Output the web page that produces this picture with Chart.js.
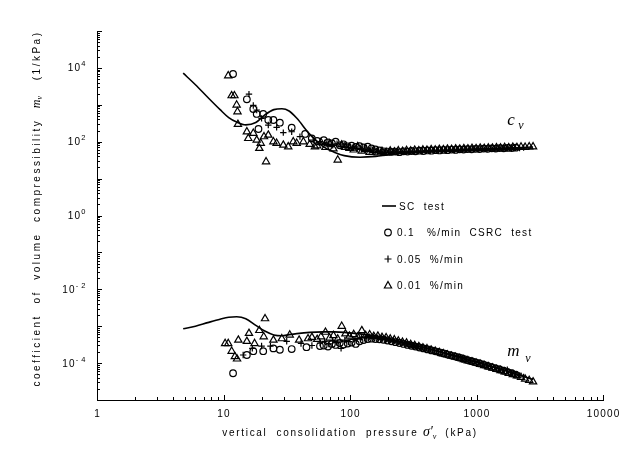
<!DOCTYPE html>
<html>
<head>
<meta charset="utf-8">
<script src="https://cdn.jsdelivr.net/npm/chart.js@4.4.1/dist/chart.umd.min.js"></script>
<style>
  html, body { margin: 0; padding: 0; background: #fff; }
</style>
</head>
<body>
<canvas id="chart" width="643" height="462"></canvas>
<script>
// ---- SC test (solid line) ----
const scP  = [4.8, 6, 7.5, 9.4, 11, 12.7, 15, 18, 21, 25, 29, 33, 38, 48, 61, 75, 90, 120, 160, 200, 300, 500, 800, 1200, 2000, 2800];
const scCv = [7200, 3500, 1600, 740, 450, 340, 285, 330, 520, 740, 780, 680, 430, 160, 75, 52, 42, 38, 40, 44, 50, 55, 60, 64, 68, 72];
const scMv = [8.5e-4, 1.0e-3, 1.25e-3, 1.55e-3, 1.75e-3, 1.8e-3, 1.6e-3, 1.05e-3, 7.5e-4, 5.8e-4, 5.5e-4, 5.9e-4, 6.3e-4,
              6.8e-4, 7.0e-4, 7.0e-4, 6.8e-4, 6.2e-4, 5.4e-4, 4.6e-4, 3.4e-4, 2.1e-4, 1.3e-4, 8.8e-5, 5.2e-5, 3.6e-5];

// ---- 0.1 %/min CSRC test (circles) ----
const circEarlyCvP = [11.9, 15.3, 17.2, 18.3, 18.9, 20.6, 22.6, 24.8, 27.9, 34.6, 44.2, 49.9, 55];
const circEarlyCv  = [6840, 1410, 770, 565, 221, 565, 387, 387, 327, 240, 162, 123, 105];
const circEarlyMvP = [11.9, 15.3, 17.2, 20.6, 24.8, 27.9, 34.6, 45.3, 57.9];
const circEarlyMv  = [5.3e-5, 1.66e-4, 2.1e-4, 2.1e-4, 2.5e-4, 2.3e-4, 2.4e-4, 2.7e-4, 2.9e-4];
const circTailP  = [62, 67, 72, 77, 83, 89, 96, 103, 111, 119, 128, 138, 148, 159, 171, 184, 198, 213, 229, 246, 265, 285, 306, 329, 354,
                    381, 410, 441, 474, 510, 549, 590, 635, 683, 735, 790, 850, 915, 984, 1058, 1138, 1225, 1318, 1418, 1525, 1640, 1765, 1900, 2040];
const circTailCv = [110, 95, 90, 100, 80, 85, 75, 78, 72, 76, 70, 73, 66, 62, 58, 55, 54, 53, 54, 52, 55, 54, 56, 55, 57,
                    56, 58, 57, 59, 58, 60, 59, 61, 60, 62, 61, 63, 62, 64, 63, 65, 64, 66, 65, 67, 66, 68, 67, 69];
const circTailMv = [3.0e-4, 2.8e-4, 3.3e-4, 3.1e-4, 3.5e-4, 3.2e-4, 3.4e-4, 3.6e-4, 3.3e-4, 3.9e-4, 4.2e-4, 4.5e-4, 4.6e-4, 4.5e-4, 4.4e-4,
                    4.3e-4, 4.1e-4, 3.9e-4, 3.7e-4, 3.5e-4, 3.3e-4, 3.1e-4, 2.95e-4, 2.8e-4, 2.65e-4, 2.5e-4, 2.35e-4, 2.2e-4, 2.08e-4, 1.95e-4,
                    1.83e-4, 1.7e-4, 1.6e-4, 1.5e-4, 1.4e-4, 1.3e-4, 1.21e-4, 1.13e-4, 1.05e-4, 9.8e-5, 9.1e-5, 8.4e-5, 7.8e-5, 7.2e-5, 6.7e-5,
                    6.2e-5, 5.7e-5, 5.3e-5, 4.9e-5];

// ---- 0.05 %/min (plus) ----
const plusEarlyCvP = [15.9, 17.2, 18.3, 20.0, 22.6, 26.3, 29.7, 34.6, 40.2, 51.2];
const plusEarlyCv  = [1950, 960, 724, 430, 283, 245, 176, 186, 137, 111];
const plusEarlyMvP = [14.3, 16.9, 20, 23.5, 31.6, 41, 50];
const plusEarlyMv  = [1.66e-4, 2.5e-4, 2.9e-4, 2.9e-4, 3.9e-4, 3.4e-4, 3.0e-4];
const plusTailP  = [58, 63, 68, 73, 79, 85, 91, 98, 106, 114, 123, 132, 142, 153, 165, 177, 191, 206, 221, 238, 257, 276, 297, 320, 345,
                    371, 400, 430, 463, 499, 537, 578, 623, 670, 722, 777, 837, 901, 970, 1045, 1125, 1211, 1304, 1404, 1512, 1628, 1753, 1888,
                    2033, 2189, 2357];
const plusTailCv = [100, 92, 85, 80, 88, 75, 82, 70, 68, 65, 62, 60, 58, 56, 54, 52, 51, 52, 53, 52, 54, 53, 55, 54, 56,
                    55, 57, 56, 58, 57, 59, 58, 60, 59, 61, 60, 62, 61, 63, 62, 64, 63, 65, 64, 66, 65, 67, 66, 68, 67, 69];
const plusTailMv = [3.5e-4, 3.9e-4, 3.3e-4, 4.0e-4, 3.6e-4, 2.5e-4, 4.2e-4, 3.8e-4, 4.4e-4, 4.7e-4, 5.0e-4, 4.8e-4, 5.2e-4, 5.0e-4, 4.9e-4,
                    4.7e-4, 4.5e-4, 4.3e-4, 4.1e-4, 3.85e-4, 3.6e-4, 3.4e-4, 3.2e-4, 3.0e-4, 2.85e-4, 2.7e-4, 2.55e-4, 2.4e-4, 2.25e-4, 2.1e-4,
                    1.97e-4, 1.85e-4, 1.72e-4, 1.6e-4, 1.5e-4, 1.4e-4, 1.3e-4, 1.2e-4, 1.12e-4, 1.04e-4, 9.6e-5, 8.9e-5, 8.2e-5, 7.6e-5, 7.0e-5,
                    6.4e-5, 6.6e-5, 5.4e-5, 5.0e-5, 4.6e-5, 4.2e-5];

// ---- 0.01 %/min (triangles) ----
const triEarlyCvP = [10.9, 11.6, 12.2, 12.7, 12.9, 13.0, 15.3, 15.7, 17.2, 18.3, 19.2, 19.7, 20.9, 21.7, 22.6, 24.8, 26.3, 29.7, 32.5, 35.6, 37.9, 42.8, 48, 52.8];
const triEarlyCv  = [6150, 1770, 1770, 990, 650, 295, 186, 123, 170, 111, 66, 91, 137, 28.7, 151, 100, 91, 81, 73, 100, 91, 100, 85, 73];
const triEarlyMvP = [10.3, 10.9, 11.6, 12.3, 12.8, 13.1, 15.3, 15.9, 17.6, 19.2, 20.8, 21.3, 24.8, 28.9, 33.4, 39.6, 46.6, 50];
const triEarlyMv  = [3.4e-4, 3.4e-4, 2.1e-4, 1.5e-4, 1.3e-4, 4.2e-4, 3.9e-4, 6.4e-4, 3.4e-4, 7.7e-4, 5.2e-4, 1.6e-3, 4.2e-4, 4.6e-4, 5.8e-4, 4.2e-4, 4.6e-4, 5.0e-4];
const triTailP  = [55, 59, 64, 69, 74, 80, 86, 92, 99, 107, 115, 124, 133, 143, 154, 166, 179, 193, 208, 224, 241, 260, 280, 302, 325,
                   350, 377, 406, 438, 472, 508, 547, 589, 635, 684, 737, 794, 855, 921, 992, 1069, 1151, 1240, 1336, 1439, 1550, 1670, 1799,
                   1938, 2088, 2249, 2423, 2610, 2800];
const triTailCv = [78, 95, 70, 88, 64, 32, 82, 70, 66, 60, 74, 56, 62, 52, 58, 50, 55, 52, 56, 53, 57, 55, 58, 56, 59,
                   57, 60, 59, 61, 60, 62, 61, 63, 62, 64, 63, 65, 64, 66, 65, 67, 66, 68, 67, 69, 68, 70, 69, 71, 70, 72, 71, 73, 73];
const triTailMv = [4.4e-4, 5.2e-4, 6.9e-4, 4.8e-4, 5.6e-4, 4.5e-4, 1.0e-3, 6.2e-4, 5.4e-4, 6.0e-4, 5.1e-4, 7.6e-4, 5.6e-4, 5.9e-4, 5.3e-4,
                   5.4e-4, 5.0e-4, 4.9e-4, 4.5e-4, 4.3e-4, 4.0e-4, 3.7e-4, 3.5e-4, 3.2e-4, 3.0e-4, 2.8e-4, 2.6e-4, 2.45e-4, 2.25e-4, 2.1e-4,
                   1.95e-4, 1.8e-4, 1.68e-4, 1.55e-4, 1.45e-4, 1.35e-4, 1.25e-4, 1.16e-4, 1.08e-4, 1.0e-4, 9.3e-5, 8.6e-5, 8.0e-5, 7.4e-5, 6.8e-5,
                   6.3e-5, 5.8e-5, 5.3e-5, 4.9e-5, 4.5e-5, 4.1e-5, 3.7e-5, 3.4e-5, 3.1e-5];

// axis labels
const xTickLabels = [1, 10, 100, 1000, 10000];
const yTickExps = [-4, -2, 0, 2, 4];
const legendLabels = ["SC  test", "0.1   %/min  CSRC  test", "0.05  %/min", "0.01  %/min"];
const cvLabelAt = [1750, 284];
const mvLabelAt = [1750, 1.6e-4];

const SANS = 'Arial, "Liberation Sans", sans-serif';
const SERIF = '"Times New Roman", "Liberation Serif", serif';

function pts(xs, ys) {
  return xs.map((x, i) => ({ x: x, y: ys[i] }));
}

function marks(style, radius, data) {
  return {
    data: data,
    pointStyle: style,
    pointRadius: radius,
    pointBorderWidth: 1.2,
    pointBorderColor: "#000",
    pointBackgroundColor: "rgba(0,0,0,0)",
    showLine: false
  };
}

function scLine(data) {
  return {
    data: data,
    showLine: true,
    pointRadius: 0,
    borderColor: "#000",
    borderWidth: 1.6,
    cubicInterpolationMode: "monotone"
  };
}

// draws a row of text pieces (different fonts / offsets) one after the other
function drawRuns(ctx, parts, x, y, align) {
  let total = 0;
  const widths = parts.map(p => {
    ctx.font = p.font;
    ctx.letterSpacing = (p.sp || 0) + "px";
    const w = ctx.measureText(p.t).width;
    total += w;
    return w;
  });
  let cx = align === "center" ? x - total / 2 : align === "right" ? x - total : x;
  parts.forEach((p, i) => {
    ctx.font = p.font;
    ctx.letterSpacing = (p.sp || 0) + "px";
    ctx.fillText(p.t, cx, y + (p.dy || 0));
    cx += widths[i];
  });
  ctx.letterSpacing = "0px";
}

const decor = {
  id: "decor",
  afterDraw(chart) {
    const ctx = chart.ctx;
    const a = chart.chartArea;
    const xs = chart.scales.x, ys = chart.scales.y;
    ctx.save();
    ctx.strokeStyle = "#000";
    ctx.fillStyle = "#000";
    ctx.lineWidth = 1;
    ctx.textAlign = "left";
    ctx.textBaseline = "alphabetic";

    // inside tick marks
    ctx.beginPath();
    for (let e = 0; e <= 4; e++) {
      for (let m = 1; m <= 9; m++) {
        const v = m * Math.pow(10, e);
        if (v > 10000) break;
        const px = Math.round(xs.getPixelForValue(v)) + 0.5;
        const len = m === 1 ? 5 : 3;
        ctx.moveTo(px, a.bottom);
        ctx.lineTo(px, a.bottom - len);
      }
    }
    for (let e = -5; e <= 5; e++) {
      for (let m = 1; m <= 9; m++) {
        const v = m * Math.pow(10, e);
        if (v > 1e5 * 1.0001) break;
        const py = Math.round(ys.getPixelForValue(v)) + 0.5;
        const len = m === 1 ? 5 : 3;
        ctx.moveTo(a.left, py);
        ctx.lineTo(a.left + len, py);
      }
    }
    ctx.stroke();

    // x tick labels
    xTickLabels.forEach(v => {
      const px = xs.getPixelForValue(v);
      drawRuns(ctx, [{ t: String(v), font: "10px " + SANS, sp: 1.2 }], px + 0.6, a.bottom + 17, "center");
    });

    // y tick labels 10^n
    yTickExps.forEach(e => {
      const py = ys.getPixelForValue(Math.pow(10, e));
      const ex = e < 0 ? "- " + (-e) : String(e);
      drawRuns(ctx, [
        { t: "10", font: "10px " + SANS, sp: 1.2 },
        { t: ex, font: "7.5px " + SANS, sp: 0.5, dy: -5 }
      ], a.left - 11, py + 3.5, "right");
    });

    // x title
    drawRuns(ctx, [
      { t: "vertical  consolidation  pressure ", font: "10px " + SANS, sp: 1.7 },
      { t: "\u03C3\u2032", font: "italic 14px " + SERIF, sp: 0 },
      { t: "v", font: "italic 8px " + SERIF, sp: 0, dy: 3 },
      { t: "  (kPa)", font: "10px " + SANS, sp: 1.7 }
    ], (a.left + a.right) / 2, 436, "center");

    // y title (rotated)
    ctx.save();
    ctx.translate(40, (a.top + a.bottom) / 2 - 7);
    ctx.rotate(-Math.PI / 2);
    drawRuns(ctx, [
      { t: "coefficient  of  volume  compressibility  ", font: "10px " + SANS, sp: 2.5 },
      { t: "m", font: "italic 12px " + SERIF, sp: 0 },
      { t: "v", font: "italic 8px " + SERIF, sp: 0, dy: 2 },
      { t: "   (1/kPa)", font: "10px " + SANS, sp: 2.5 }
    ], 0, 0, "center");
    ctx.restore();

    // curve labels c_v and m_v
    const cx = xs.getPixelForValue(cvLabelAt[0]), cy = ys.getPixelForValue(cvLabelAt[1]);
    drawRuns(ctx, [{ t: "c", font: "italic 17px " + SERIF }], cx, cy, "left");
    drawRuns(ctx, [{ t: "v", font: "italic 12px " + SERIF }], cx + 11, cy + 4, "left");
    const mx = xs.getPixelForValue(mvLabelAt[0]), my = ys.getPixelForValue(mvLabelAt[1]);
    drawRuns(ctx, [{ t: "m", font: "italic 17px " + SERIF }], mx, my, "left");
    drawRuns(ctx, [{ t: "v", font: "italic 12px " + SERIF }], mx + 18, my + 6, "left");

    // legend
    const lx = a.left + 291, ly = a.top + 175, gap = 26.5;
    ctx.lineWidth = 1.6;
    ctx.beginPath();
    ctx.moveTo(lx - 6, ly); ctx.lineTo(lx + 8, ly);
    ctx.stroke();
    ctx.lineWidth = 1.2;
    ctx.beginPath();
    ctx.arc(lx, ly + gap, 3.3, 0, Math.PI * 2);
    ctx.stroke();
    ctx.beginPath();
    ctx.moveTo(lx - 3.5, ly + 2 * gap); ctx.lineTo(lx + 3.5, ly + 2 * gap);
    ctx.moveTo(lx, ly + 2 * gap - 3.5); ctx.lineTo(lx, ly + 2 * gap + 3.5);
    ctx.stroke();
    const ty = ly + 3 * gap;
    ctx.beginPath();
    ctx.moveTo(lx, ty - 4); ctx.lineTo(lx + 3.6, ty + 2.5); ctx.lineTo(lx - 3.6, ty + 2.5); ctx.closePath();
    ctx.stroke();
    legendLabels.forEach((t, i) => {
      drawRuns(ctx, [{ t: t, font: "10px " + SANS, sp: 1.3 }], i === 0 ? lx + 11 : lx + 9, ly + i * gap + 3.5, "left");
    });

    ctx.restore();
  }
};

new Chart(document.getElementById("chart"), {
  type: "scatter",
  data: {
    datasets: [
      scLine(pts(scP, scCv)),
      scLine(pts(scP, scMv)),
      marks("circle", 3.3, pts(circEarlyCvP.concat(circTailP), circEarlyCv.concat(circTailCv))),
      marks("circle", 3.3, pts(circEarlyMvP.concat(circTailP), circEarlyMv.concat(circTailMv))),
      marks("cross", 3.2, pts(plusEarlyCvP.concat(plusTailP), plusEarlyCv.concat(plusTailCv))),
      marks("cross", 3.2, pts(plusEarlyMvP.concat(plusTailP), plusEarlyMv.concat(plusTailMv))),
      marks("triangle", 4.2, pts(triEarlyCvP.concat(triTailP), triEarlyCv.concat(triTailCv))),
      marks("triangle", 4.2, pts(triEarlyMvP.concat(triTailP), triEarlyMv.concat(triTailMv)))
    ]
  },
  options: {
    responsive: false,
    animation: false,
    layout: { padding: { top: 31, right: 40, left: 0, bottom: 0 } },
    plugins: {
      legend: { display: false },
      tooltip: { enabled: false }
    },
    scales: {
      x: {
        type: "logarithmic",
        min: 1,
        max: 10000,
        grid: { display: false },
        border: { display: true, color: "#000", width: 1 },
        ticks: { display: false },
        afterFit: s => { s.height = 62; }
      },
      y: {
        type: "logarithmic",
        min: 1e-5,
        max: 1e5,
        grid: { display: false },
        border: { display: true, color: "#000", width: 1 },
        ticks: { display: false },
        afterFit: s => { s.width = 97; }
      }
    }
  },
  plugins: [decor]
});
</script>
</body>
</html>
